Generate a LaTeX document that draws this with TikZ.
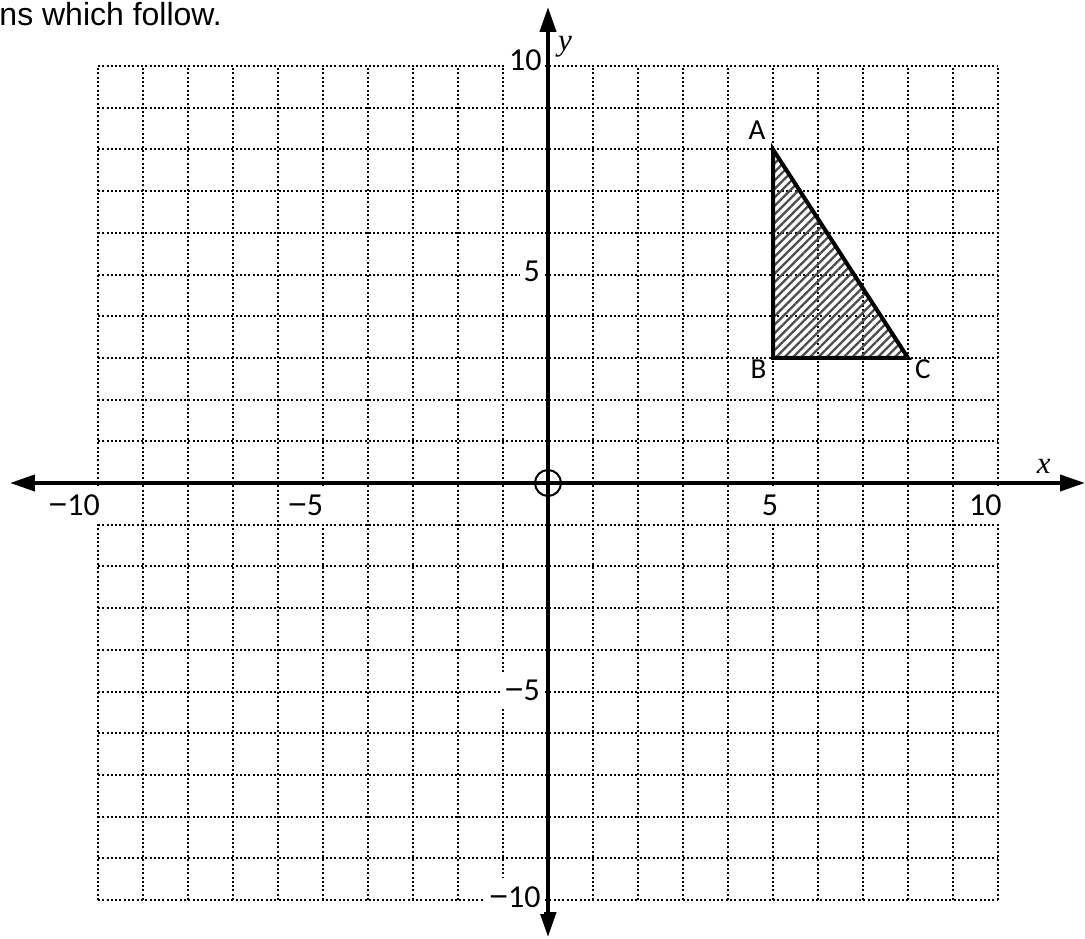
\documentclass[tikz,border=0pt]{standalone}
\usepackage{fontspec}
\setmainfont{Liberation Sans}
\newfontfamily\calfont{Carlito}
\newfontfamily\minusfont{Liberation Sans}
\newfontfamily\serifit{Liberation Serif}
\newcommand{\mns}{{\minusfont −}}
\usetikzlibrary{arrows.meta,patterns.meta}
\begin{document}
\begin{tikzpicture}[x=45pt,y=41.7pt,
  gridline/.style={line width=2pt, dash pattern=on 2pt off 2.3pt},
  axisline/.style={line width=4pt, {Triangle[length=25pt,width=16pt]}-{Triangle[length=25pt,width=16pt]}},
  ticklabel/.style={font=\calfont\fontsize{32}{34}\selectfont, fill=white, text height=25pt, text depth=3pt, inner sep=4pt},
  ptlabel/.style={font=\calfont\fontsize{29}{31}\selectfont, inner sep=0pt},
  axlabel/.style={font=\serifit\itshape\fontsize{31}{33}\selectfont, inner sep=0pt},
  tri/.style={line width=4pt, line join=miter, pattern={Lines[angle=45,distance=6pt,line width=2.3pt]}, pattern color=black!70}
]
\useasboundingbox (-548pt,-455pt) rectangle (537pt,483pt);
% grid
\foreach \i in {-10,...,10} {
  \draw[gridline] (\i,-10) -- (\i,10);
  \draw[gridline] (-10,\i) -- (10,\i);
}
% triangle
\coordinate (A) at (5,8);
\coordinate (B) at (5,3);
\coordinate (C) at (8,3);
\draw[tri] (A) -- (B) -- (C) -- cycle;
% axes
\coordinate (xw) at (-538pt,0);
\coordinate (xe) at (537pt,0);
\coordinate (yn) at (0,476pt);
\coordinate (ys) at (0,-454pt);
\draw[axisline] (xw) -- (xe);
\draw[axisline] (ys) -- (yn);
\node[circle, draw, line width=2pt, minimum size=26pt, inner sep=0pt] (o) at (0,0) {};
% tick labels
\node[ticklabel, anchor=base east] (ly10) at (-2.3pt,412pt) {10};
\node[ticklabel, anchor=base east] (ly5) at (-4pt,201.3pt) {5};
\node[ticklabel, anchor=base east] (lym5) at (-4pt,-217.7pt) {\mns5};
\node[ticklabel, anchor=base east] (lym10) at (-3.3pt,-424pt) {\mns10};
\node[ticklabel, anchor=base east] (lxm10) at (-444pt,-32pt) {\mns10};
\node[ticklabel, anchor=base east] (lxm5) at (-220.7pt,-32pt) {\mns5};
\node[ticklabel, anchor=base east] (lx5) at (234.3pt,-32pt) {5};
\node[ticklabel, anchor=base east] (lx10) at (457.7pt,-32pt) {10};
% axis names
\node[axlabel, anchor=base west] (ylab) at (10pt,432pt) {y};
\node[axlabel, anchor=base west] (xlab) at (488.7pt,10pt) {x};
% point labels
\node[ptlabel, anchor=base east] (la) at (217.7pt,343pt) {A};
\node[ptlabel, anchor=base east] (lb) at (218.7pt,104.7pt) {B};
\node[ptlabel, anchor=base west] (lc) at (367pt,105pt) {C};
% intro text
\node[anchor=base east, font=\fontsize{32}{34}\selectfont, inner sep=0pt] (intro) at (-326pt,457pt) {ns which follow.};
\end{tikzpicture}
\end{document}
